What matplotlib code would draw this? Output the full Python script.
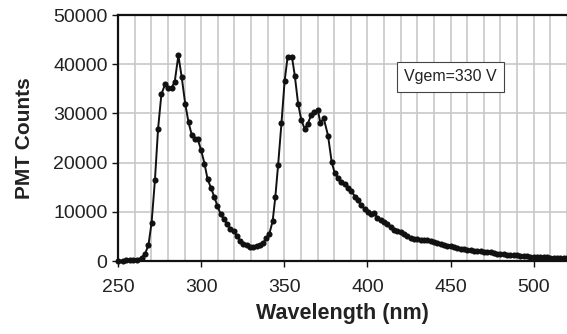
import numpy as np
import matplotlib
matplotlib.use("Agg")
import matplotlib.pyplot as plt

plt.rcParams['font.family'] = ['Liberation Sans', 'DejaVu Sans']

# spectrum up to ~400 nm
wl_a = [250, 252.8, 255, 257.2, 259.3, 261.5, 264.3, 266.3, 268.3, 270.2,
        272.2, 274.1, 276.1, 278.3, 280.2, 282.2, 284.1, 286.3, 288.3, 290.4,
        292.4, 294.3, 296.3, 298, 300, 302, 303.9, 305.9, 307.8, 309.8,
        311.7, 313.7, 315.7, 317.6, 319.6, 321.5, 323.5, 325.4, 327.4, 329.3,
        331.3, 333.3, 335.2, 337.2, 339.1, 340.9, 343, 344.6, 346.3, 348.3,
        350.2, 352, 354.6, 356.3, 358.3, 360.2, 362.2, 364.1, 366.1, 368,
        370.2, 371.7, 373.7, 376.3, 378.5, 380.4, 382.4, 384.3, 386.3, 388.3,
        390.2, 392.6, 394.3, 396.3, 398.5, 400.2]
cnt_a = [0, 50, 150, 250, 300, 300, 700, 1500, 3200, 7800,
         16400, 26900, 33900, 35900, 35200, 35200, 36400, 41800, 37400, 32000,
         28200, 25700, 24700, 24700, 22500, 19800, 16600, 14900, 13100, 11200,
         9500, 8500, 7500, 6600, 6000, 5100, 4100, 3500, 3200, 2900,
         2900, 3000, 3300, 3600, 4600, 5400, 8100, 13000, 19600, 28000,
         36600, 41500, 41500, 37700, 32000, 28700, 26900, 27900, 29600, 30200,
         30600, 28100, 29000, 25500, 20100, 17800, 16900, 16100, 15600, 14900,
         14200, 13100, 12300, 11300, 10500, 10000]

# tail, 2 nm steps
wl_b = list(range(402, 522, 2))
cnt_b = [9600, 9800, 8800, 8300, 7900, 7500, 6900, 6400, 6100, 5800,
         5400, 5000, 4700, 4500, 4400, 4300, 4300, 4300, 4100, 3900,
         3700, 3500, 3300, 3100, 2950, 2800, 2600, 2500, 2400, 2250,
         2150, 2100, 2050, 2000, 1900, 1850, 1800, 1650, 1500, 1400,
         1350, 1300, 1250, 1200, 1150, 1100, 1050, 950, 900, 900,
         800, 850, 900, 750, 700, 650, 600, 600, 600, 600]

wavelength = wl_a + wl_b
counts = cnt_a + cnt_b

fig = plt.figure(figsize=(5.67, 3.34), dpi=100)
ax = fig.add_axes([118/567, 1-261/334, 1-118/567, (261-15)/334])

ax.plot(wavelength, counts, color='#111111', lw=1.4, marker='o', ms=4.4,
        markeredgewidth=0, clip_on=False, zorder=3)

ax.set_xlim(250, 519)
ax.set_ylim(0, 50000)
ax.set_xticks(range(250, 501, 50))
ax.set_xticks(range(250, 521, 10), minor=True)
ax.set_yticks(range(0, 50001, 10000))
ax.grid(True, which='both', axis='x', color='#c8c8c8', lw=1.2)
ax.grid(True, which='major', axis='y', color='#c8c8c8', lw=1.2)
ax.tick_params(axis='x', which='minor', length=0)
ax.tick_params(axis='both', which='major', labelsize=14, length=4, width=1,
               direction='out', colors='#111111', labelcolor='#222222')
ax.tick_params(axis='x', which='major', pad=9)
ax.set_axisbelow(True)

for s in ['left', 'bottom', 'top']:
    ax.spines[s].set_linewidth(1.6)
    ax.spines[s].set_color('#111111')
ax.spines['right'].set_visible(False)

ax.set_xlabel('Wavelength (nm)', fontsize=15.5, fontweight='bold', color='#222222', labelpad=5)
ax.set_ylabel('PMT Counts', fontsize=15, fontweight='bold', color='#222222', labelpad=14)

ax.text(450, 37400, 'Vgem=330 V', fontsize=11.5, ha='center', va='center',
        color='#222222',
        bbox=dict(boxstyle='square,pad=0.45', fc='white', ec='#444444', lw=0.8))

fig.savefig('out.png', dpi=100)
